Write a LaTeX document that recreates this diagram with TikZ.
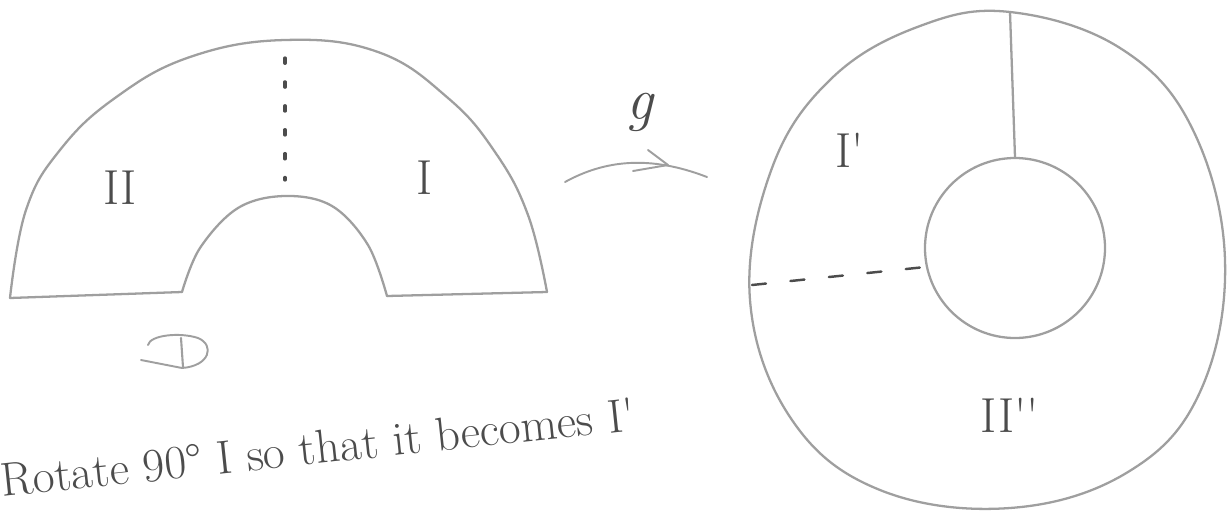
\documentclass[tikz,border=0pt]{standalone}
\usepackage{fontspec}
\begin{document}
\begin{tikzpicture}[x=0.02cm,y=-0.02cm,
  pencil/.style={draw=gray!75, line width=1.3pt, line cap=round, line join=round},
  lbl/.style={text=gray!60!black, font=\fontsize{28}{32}\selectfont, inner sep=0pt}]
\useasboundingbox (0,0) rectangle (1232,518);
% left shape
\coordinate (LL) at (10,298);
\coordinate (LM) at (182,292);
\coordinate (RM) at (387,296);
\coordinate (RR) at (547,292);
\draw[pencil] plot[smooth, tension=0.7] coordinates {(10,298) (26,210) (60,150) (115,98) (190,57) (285,40) (378,52) (448,98) (495,152) (528,215) (547,292)};
\draw[pencil] plot[smooth, tension=0.6] coordinates {(182,292) (200,248) (238,208) (285,196) (332,206) (368,245) (387,296)};
\draw[pencil] (LL) -- (LM);
\draw[pencil] (RM) -- (RR);
\draw[draw=gray!60!black, line width=1.9pt, dash pattern=on 3pt off 10.6pt, line cap=round] (285,58) -- (285,180);
\node[lbl] (II) at (120,188) {II};
\node[lbl] (I) at (425,178) {I};
% D symbol
\draw[pencil, line width=1.1pt] (141,360) -- (182,368) .. controls (210,366) and (215,345) .. (198,338) .. controls (180,332) and (150,335) .. (148,345);
\draw[pencil, line width=1.2pt] (181,338) -- (183,367);
% arrow g
\coordinate (A0) at (565,182);
\coordinate (A1) at (707,177);
\coordinate (AT) at (668,165);
\draw[pencil, line width=1.1pt] (A0) .. controls (605,160) and (650,155) .. (A1);
\draw[pencil, line width=1.1pt] (648,150) -- (AT) -- (633,171);
\node[lbl, font=\fontsize{34}{38}\selectfont\itshape] (g) at (640,112) {g};
% right shape
\draw[pencil] plot[smooth cycle, tension=0.65] coordinates {(1010,12) (1120,48) (1192,128) (1225,260) (1200,392) (1128,472) (1010,508) (880,490) (792,420) (750,300) (772,168) (832,78) (920,26)};
\node[draw=gray!75, line width=1.3pt, circle, minimum size=180*0.02cm, inner sep=0pt] (C) at (1015,248) {};
\draw[pencil] (1010,12) -- (C.north);
\draw[draw=gray!60!black, line width=1.4pt, dash pattern=on 8pt off 14pt, line cap=round] (752,285) -- (C.192);
\node[lbl] (Ip) at (850,150) {I\textquotesingle};
\node[lbl] (IIpp) at (1010,415) {II\textquotesingle\textquotesingle};
% caption
\node[lbl, anchor=base west, rotate=6, font=\fontsize{27}{32}\selectfont] (cap) at (2,497) {Rotate 90° I so that it becomes I\textquotesingle};
\end{tikzpicture}
\end{document}
